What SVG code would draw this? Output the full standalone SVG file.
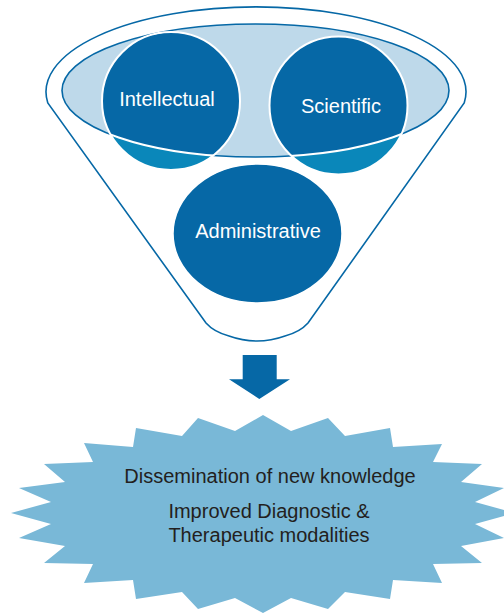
<svg xmlns="http://www.w3.org/2000/svg" width="504" height="613" viewBox="0 0 504 613">
<style>
.lbl{font-family:"Liberation Sans",Arial,sans-serif;font-size:20px;text-anchor:middle}
.w{fill:#ffffff}
.d{fill:#231f20}
.dark{fill:#0668a6}
.teal{fill:#0a87ba}
</style>
<defs>
<clipPath id="inner"><ellipse cx="255.5" cy="90.5" rx="193.5" ry="66.5"/></clipPath>
<clipPath id="c1"><circle cx="171" cy="101" r="69"/></clipPath>
<clipPath id="c2"><circle cx="338.5" cy="105.5" r="69"/></clipPath>
</defs>
<g id="funnel">
<path d="M47.8,103 A210,85 0 1 1 464.2,103 L308,323 Q300,332 285,336 Q257,346 229,336 Q214,332 206,323 Z" fill="#ffffff" stroke="#0668a6" stroke-width="1.6"/>
<ellipse cx="255.5" cy="90.5" rx="193.5" ry="66.5" fill="#bed9ea" stroke="#0668a6" stroke-width="1.6"/>
</g>
<g id="intellectual">
<circle cx="171" cy="101" r="69" class="teal"/>
<circle cx="171" cy="101" r="69" class="dark" clip-path="url(#inner)"/>
<ellipse cx="255.5" cy="90.5" rx="193.5" ry="66.5" fill="none" stroke="#ffffff" stroke-width="2" clip-path="url(#c1)"/>
<circle cx="171" cy="101" r="69" fill="none" stroke="#ffffff" stroke-width="2"/>
<text x="167" y="106" class="lbl w">Intellectual</text>
</g>
<g id="scientific">
<circle cx="338.5" cy="105.5" r="69" class="teal"/>
<circle cx="338.5" cy="105.5" r="69" class="dark" clip-path="url(#inner)"/>
<ellipse cx="255.5" cy="90.5" rx="193.5" ry="66.5" fill="none" stroke="#ffffff" stroke-width="2" clip-path="url(#c2)"/>
<circle cx="338.5" cy="105.5" r="69" fill="none" stroke="#ffffff" stroke-width="2"/>
<text x="341" y="113" class="lbl w">Scientific</text>
</g>
<g id="administrative">
<ellipse cx="257.5" cy="233.5" rx="84.5" ry="69.5" class="dark" stroke="#ffffff" stroke-width="1.5"/>
<text x="258" y="238" class="lbl w">Administrative</text>
</g>
<g id="connectors">
<path d="M242.7,355 L276.7,355 L276.7,379.3 L290,379.3 L259.3,399 L229,379.3 L242.7,379.3 Z" fill="#0668a6"/>
</g>
<g id="outcome">
<path fill="#79b8d7" d="M263,415 L291,431 L328,418 L345,436 L390,428 L393,447 L442,444 L433,462 L482,464 L461,482 L504,488 L475,502 L515,513 L475,524 L504,538 L461,546 L482,563 L433,564 L442,583 L393,580 L390,599 L345,592 L328,609 L291,598 L263,613 L235,598 L198,609 L182,592 L136,599 L133,580 L84,583 L93,564 L44,563 L65,546 L19,538 L51,524 L11,513 L51,502 L19,488 L65,482 L44,464 L93,462 L84,443 L133,447 L136,428 L182,436 L198,418 L235,431 Z"/>
<text x="270" y="483" class="lbl d">Dissemination of new knowledge</text>
<text x="269" y="518" class="lbl d">Improved Diagnostic &amp;</text>
<text x="269" y="542" class="lbl d">Therapeutic modalities</text>
</g>
</svg>
